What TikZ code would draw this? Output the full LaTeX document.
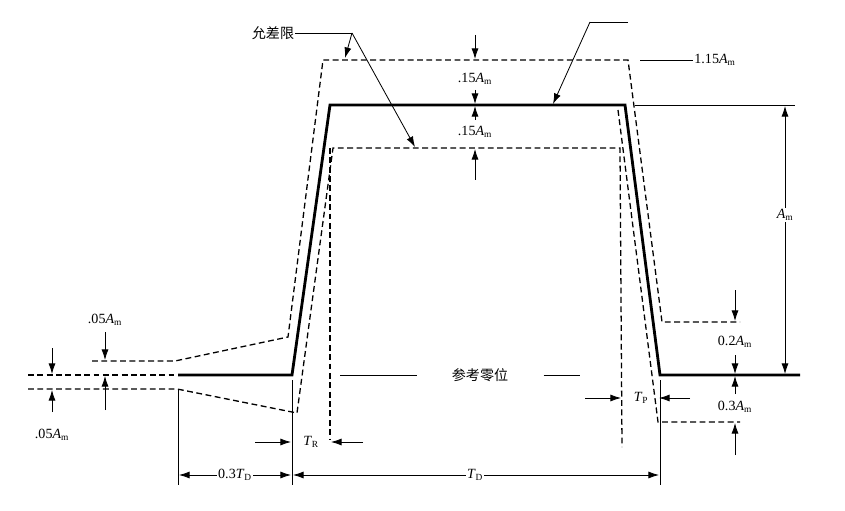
\documentclass[tikz,border=0pt]{standalone}
\usepackage{fontspec}
\setmainfont{Liberation Serif}
\newfontfamily\cjk{Noto Sans CJK SC}
\usetikzlibrary{arrows.meta}

\begin{document}
\begin{tikzpicture}[x=0.03cm, y=-0.03cm,
    tolline/.style={line width=1.1pt, dash pattern=on 5pt off 3pt},
    pulse/.style={line width=2.4pt},
    dim/.style={line width=0.7pt},
    arr/.style={dim, -{Latex[length=9pt, width=6pt]}},
    lbl/.style={font=\large, inner sep=1pt}]
    \useasboundingbox (0,0) rectangle (845,511);

    % 基準点
    \coordinate (p0) at (178,375);
    \coordinate (p1) at (292,375);
    \coordinate (p2) at (330,105);
    \coordinate (p3) at (625,105);
    \coordinate (p4) at (660,375);
    \coordinate (p5) at (800,375);

    % パルスを描画
    \draw[pulse] (p0) -- (p1) -- (p2) -- (p3) -- (p4) -- (p5);

    % 許容範囲を描画
    \draw[tolline] (92,361) -- (175,361) -- (288,337) -- (323,60) -- (628,60) -- (662,322) -- (740,322);
    \draw[tolline] (28,375) -- (175,375);
    \draw[tolline] (28,389) -- (177,389) -- (297,413) -- (333,148) -- (620,148) -- (622,447);
    \draw[tolline] (330,148) -- (330,440);
    \draw[tolline] (618,110) -- (658,422) -- (740,422);

    % ラベルを描画
    \node[lbl] (tol) at (273,33) {\cjk 允差限};
    \node[lbl, inner xsep=30pt] (ref) at (480,375) {\cjk 参考零位};
    \node[lbl] (top) at (715,60) {1.15\textit{A}\textsubscript{m}};
    \node[lbl] (am) at (785,215) [fill=white] {\textit{A}\textsubscript{m}};
    \node[lbl] (u1) at (475,79) {.15\textit{A}\textsubscript{m}};
    \node[lbl] (u2) at (475,132) {.15\textit{A}\textsubscript{m}};
    \node[lbl] (r1) at (735,342) {0.2\textit{A}\textsubscript{m}};
    \node[lbl] (r2) at (735,407) {0.3\textit{A}\textsubscript{m}};
    \node[lbl] (l1) at (105,320) {.05\textit{A}\textsubscript{m}};
    \node[lbl] (l2) at (52,435) {.05\textit{A}\textsubscript{m}};
    \node[lbl] (tr) at (311,442) {\textit{T}\textsubscript{R}};
    \node[lbl] (tp) at (641,398) {\textit{T}\textsubscript{P}};
    \node[lbl] (td3) at (235,475) {0.3\textit{T}\textsubscript{D}};
    \node[lbl] (td) at (475,475) {\textit{T}\textsubscript{D}};

    % 引出線を描画
    \coordinate (t0) at (352,33);
    \coordinate (t1) at (345,58);
    \coordinate (t2) at (415,147);
    \coordinate (s0) at (628,22);
    \coordinate (s1) at (590,22);
    \coordinate (s2) at (553,104);
    \draw[dim] (tol) -- (t0);
    \draw[arr] (t0) -- (t1);
    \draw[arr] (t0) -- (t2);
    \draw[dim] (s0) -- (s1);
    \draw[arr] (s1) -- (s2);
    \draw[dim] (ref.west) -- (340,375);
    \draw[dim] (ref.east) -- (580,375);
    \draw[dim] (640,60) -- (top);

    % 寸法線を描画
    \draw[dim] (635,105) -- (795,105);
    \draw[arr] (am) -- (785,106);
    \draw[arr] (am) -- (785,374);
    \draw[arr] (475,35) -- (475,59);
    \draw[arr] (475,90) -- (475,104);
    \draw[arr] (475,120) -- (475,106);
    \draw[arr] (475,180) -- (475,149);
    \draw[arr] (735,290) -- (735,321);
    \draw[arr] (735,355) -- (735,374);
    \draw[arr] (735,394) -- (735,376);
    \draw[arr] (735,455) -- (735,423);
    \draw[arr] (52,348) -- (52,374);
    \draw[arr] (52,412) -- (52,390);
    \draw[arr] (105,332) -- (105,360);
    \draw[arr] (105,410) -- (105,376);
    \draw[dim] (178,390) -- (178,485);
    \draw[dim] (292,380) -- (292,485);
    \draw[dim] (660,380) -- (660,485);
    \draw[arr] (255,442) -- (291,442);
    \draw[arr] (363,442) -- (331,442);
    \draw[arr] (585,398) -- (621,398);
    \draw[arr] (690,398) -- (659,398);
    \draw[arr] (td3) -- (179,475);
    \draw[arr] (td3) -- (291,475);
    \draw[arr] (td) -- (293,475);
    \draw[arr] (td) -- (659,475);
\end{tikzpicture}
\end{document}
